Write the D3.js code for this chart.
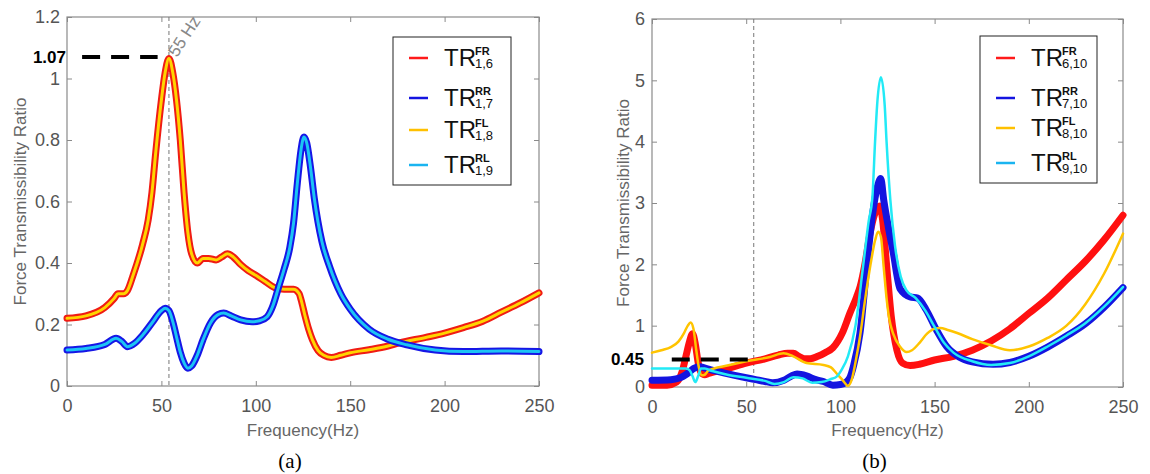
<!DOCTYPE html>
<html>
<head>
<meta charset="utf-8">
<script src="https://cdn.jsdelivr.net/npm/d3@7.9.0/dist/d3.min.js"></script>
<style>
  body { margin: 0; background: #fff; }
  svg { display: block; font-family: "Liberation Sans", Arial, sans-serif; }
</style>
</head>
<body>
<svg id="chart" width="1150" height="474"></svg>
<script>
// ---- data: panel (a) ----
const freqTicks = [0, 50, 100, 150, 200, 250];
const yTicksA = [0, 0.2, 0.4, 0.6, 0.8, 1, 1.2];
const yTicksB = [0, 1, 2, 3, 4, 5, 6];

const freqA_front = [0,10,20,25,27,30,32,35,40,43,45,47,50,52,54,56,58,60,62,64,66,69,72,75,79,82,85,88,92,96,100,105,110,115,120,123,124,126,128,130,133,136,140,145,150,160,170,176,190,200,210,220,230,240,250];
const trA_FR = [0.22,0.228,0.255,0.285,0.30,0.30,0.31,0.36,0.46,0.54,0.63,0.76,0.93,1.02,1.065,1.02,0.93,0.8,0.63,0.5,0.43,0.40,0.415,0.415,0.41,0.42,0.43,0.42,0.395,0.375,0.36,0.34,0.32,0.315,0.315,0.3,0.28,0.23,0.185,0.15,0.115,0.1,0.093,0.1,0.108,0.118,0.13,0.14,0.158,0.172,0.19,0.21,0.24,0.27,0.303];
const trA_FL = [0.22,0.228,0.255,0.285,0.30,0.30,0.31,0.36,0.46,0.54,0.63,0.76,0.93,1.02,1.065,1.02,0.93,0.8,0.63,0.5,0.43,0.40,0.415,0.415,0.41,0.42,0.43,0.42,0.395,0.375,0.36,0.34,0.32,0.315,0.315,0.3,0.28,0.23,0.185,0.15,0.115,0.1,0.093,0.1,0.108,0.118,0.13,0.14,0.158,0.172,0.19,0.21,0.24,0.27,0.303];

const freqA_rear = [0,10,20,26,29,32,36,40,45,50,52,54,56,58,60,62,64,66,69,72,76,80,83,87,92,98,102,106,109,112,115,118,120,122,124,125.5,127,129,131,135,139,145,150,160,170,180,195,210,230,250];
const trA_RR = [0.117,0.122,0.135,0.155,0.145,0.128,0.14,0.165,0.205,0.245,0.253,0.245,0.21,0.16,0.11,0.075,0.058,0.065,0.1,0.15,0.205,0.232,0.237,0.228,0.215,0.209,0.212,0.225,0.26,0.32,0.38,0.45,0.53,0.66,0.77,0.81,0.79,0.71,0.61,0.47,0.39,0.3,0.25,0.185,0.152,0.134,0.117,0.112,0.114,0.112];
const trA_RL = [0.117,0.122,0.135,0.155,0.145,0.128,0.14,0.165,0.205,0.245,0.253,0.245,0.21,0.16,0.11,0.075,0.058,0.065,0.1,0.15,0.205,0.232,0.237,0.228,0.215,0.209,0.212,0.225,0.26,0.32,0.38,0.45,0.53,0.66,0.77,0.81,0.79,0.71,0.61,0.47,0.39,0.3,0.25,0.185,0.152,0.134,0.117,0.112,0.114,0.112];

// ---- data: panel (b) ----
const freqB_FR = [0,8,13,16,18,20,21.5,23,24.5,26,28,30,40,50,60,67,72,75,78,81,84,88,92,96,101,105,108.6,110.5,113,115.7,118,120,121,122.3,124.6,127,130,133,137,142,150,160,170,180,190,200,210,220,230,240,250];
const trB_FR = [0.03,0.03,0.08,0.25,0.5,0.75,0.87,0.7,0.4,0.24,0.2,0.22,0.3,0.39,0.46,0.52,0.55,0.55,0.5,0.46,0.46,0.5,0.56,0.64,0.88,1.2,1.47,1.64,2.0,2.5,2.8,2.93,2.95,2.75,1.96,1.15,0.6,0.39,0.35,0.37,0.44,0.5,0.6,0.75,0.95,1.2,1.45,1.75,2.05,2.4,2.8];

const freqB_RR = [0,10,15,18,20,22,25.5,30,38,50,55,60,64,70,74,77,82,87,91,96,100,103,105,107,110.4,114,117,119.5,121.4,123,125.5,128,131.7,137,141,145.5,151,156.4,163,170,181,190,200,210,220,230,240,250];
const trB_RR = [0.11,0.12,0.15,0.2,0.25,0.3,0.33,0.29,0.23,0.15,0.12,0.09,0.07,0.11,0.18,0.21,0.18,0.12,0.09,0.03,0.04,0.08,0.15,0.35,0.88,1.96,2.8,3.25,3.4,3.05,2.6,2.2,1.6,1.47,1.45,1.26,0.93,0.66,0.49,0.41,0.37,0.4,0.5,0.65,0.83,1.03,1.3,1.62];

const freqB_FL = [0,5,10,14,17,19,20.5,22,23.5,25,26.5,28,30,40,50,62.6,69.8,75,82,91,95,98,101,104,106,108.6,110.4,113,116,118.5,120,121.5,123,124.6,126,128,131.6,135.2,138,142,146,150,153,157,162,170,180,190,200,210,220,230,240,250];
const trB_FL = [0.56,0.6,0.65,0.74,0.88,1.0,1.05,0.95,0.6,0.3,0.19,0.2,0.27,0.35,0.42,0.49,0.55,0.5,0.39,0.36,0.32,0.22,0.12,0.02,0.12,0.5,0.82,1.4,2.0,2.4,2.53,2.45,1.95,1.42,1.1,0.87,0.66,0.57,0.6,0.72,0.87,0.95,0.96,0.93,0.88,0.78,0.68,0.6,0.66,0.8,1.0,1.35,1.85,2.5];

const freqB_RL = [0,10,18,20,21.5,23,24.5,26,28,32,40,50,60,65,70,75,80,85,90,95,98,101,104,108,112,115,117,118.4,119.5,121.5,123.5,124.5,126.5,129,132,135,140,145,150,155,160,170,180,190,200,210,220,230,240,250];
const trB_RL = [0.3,0.3,0.3,0.27,0.18,0.08,0.18,0.3,0.3,0.26,0.2,0.15,0.1,0.05,0.08,0.16,0.14,0.07,0.08,0.13,0.17,0.3,0.5,1.0,1.96,2.7,3.1,4.0,4.6,5.05,4.6,4.0,3.05,2.3,1.8,1.58,1.45,1.25,0.98,0.72,0.56,0.42,0.36,0.39,0.5,0.66,0.84,1.04,1.31,1.63];

const legendSup = ['FR', 'RR', 'FL', 'RL'];
const legendSubA = ['1,6', '1,7', '1,8', '1,9'];
const legendSubB = ['6,10', '7,10', '8,10', '9,10'];
const legendColors = ['#ff1a1a', '#1414e0', '#ffc000', '#1ab4f0'];

const markerFreq = 54;
const peakA = 1.07;
const levelB = 0.45;

const axisColor = '#8a8a8a';
const tickColor = '#555';
const labelColor = '#666';

const svg = d3.select('#chart');

function drawPanel(p) {
    let x = d3.scaleLinear().domain([0, 250]).range([p.left, p.left + p.width]);
    let y = d3.scaleLinear().domain([0, p.yMax]).range([p.top + p.height, p.top]);
    let g = svg.append('g');

    let styleAxis = (sel) => {
        sel.attr('font-family', null).attr('font-size', null);
        sel.select('.domain').remove();
        sel.selectAll('.tick line').attr('stroke', axisColor);
        sel.selectAll('.tick text').attr('fill', tickColor).style('font-size', '18px');
    };

    g.append('g')
        .attr('transform', `translate(0,${y(0)})`)
        .call(d3.axisBottom(x).tickValues(freqTicks).tickSizeInner(-5).tickSizeOuter(0).tickPadding(13))
        .call(styleAxis);
    g.append('g')
        .attr('transform', `translate(0,${y(p.yMax)})`)
        .call(d3.axisTop(x).tickValues(freqTicks).tickSizeInner(-5).tickSizeOuter(0).tickFormat(''))
        .call(styleAxis);
    g.append('g')
        .attr('transform', `translate(${x(0)},0)`)
        .call(d3.axisLeft(y).tickValues(p.yTicks).tickFormat(d3.format('~g')).tickSizeInner(-5).tickSizeOuter(0).tickPadding(7))
        .call(styleAxis);
    g.append('g')
        .attr('transform', `translate(${x(250)},0)`)
        .call(d3.axisRight(y).tickValues(p.yTicks).tickSizeInner(-5).tickSizeOuter(0).tickFormat(''))
        .call(styleAxis);

    g.append('rect')
        .attr('x', x(0)).attr('y', y(p.yMax))
        .attr('width', x(250) - x(0)).attr('height', y(0) - y(p.yMax))
        .attr('fill', 'none').attr('stroke', axisColor).attr('stroke-width', 1.2);

    // marker line
    g.append('line')
        .attr('x1', x(markerFreq)).attr('x2', x(markerFreq))
        .attr('y1', y(p.yMax)).attr('y2', y(0))
        .attr('stroke', '#777').attr('stroke-width', 1)
        .attr('stroke-dasharray', '4,3');

    let line = d3.line()
        .x((d) => x(d[0]))
        .y((d) => y(d[1]))
        .curve(d3.curveMonotoneX);

    p.series.forEach((s) => {
        g.append('path')
            .attr('d', line(d3.zip(s.f, s.v)))
            .attr('fill', 'none')
            .attr('stroke', s.color)
            .attr('stroke-width', s.width)
            .attr('stroke-linejoin', 'round')
            .attr('stroke-linecap', 'round');
    });

    // horizontal annotation
    g.append('line')
        .attr('x1', x(p.annot.from)).attr('x2', x(p.annot.to))
        .attr('y1', y(p.annot.value)).attr('y2', y(p.annot.value))
        .attr('stroke', '#000').attr('stroke-width', 4)
        .attr('stroke-dasharray', '18,11');
    g.append('text')
        .attr('x', p.annot.labelX).attr('y', y(p.annot.value) + 6)
        .attr('text-anchor', 'end')
        .attr('font-weight', 'bold')
        .style('font-size', '17px')
        .attr('fill', '#000')
        .text(p.annot.value);

    // axis titles
    g.append('text')
        .attr('transform', `translate(${p.yLabelX},${(y(0) + y(p.yMax)) / 2}) rotate(-90)`)
        .attr('text-anchor', 'middle')
        .style('font-size', '17px')
        .attr('fill', labelColor)
        .text('Force Transmissibility Ratio');
    g.append('text')
        .attr('x', (x(0) + x(250)) / 2).attr('y', 436)
        .attr('text-anchor', 'middle')
        .style('font-size', '17px')
        .attr('fill', labelColor)
        .text('Frequency(Hz)');
    g.append('text')
        .attr('x', (x(0) + x(250)) / 2 - 13).attr('y', 468)
        .attr('text-anchor', 'middle')
        .style('font-family', '"Liberation Serif", "Times New Roman", serif')
        .style('font-size', '21px')
        .attr('fill', '#000')
        .text(p.tag);

    // legend
    let lg = g.append('g').attr('transform', `translate(${p.legend.x},${p.legend.y})`);
    lg.append('rect')
        .attr('width', p.legend.w).attr('height', p.legend.h)
        .attr('fill', '#fff').attr('stroke', '#222').attr('stroke-width', 1);
    p.legend.rows.forEach((ry, i) => {
        lg.append('line')
            .attr('x1', 16).attr('x2', 35).attr('y1', ry).attr('y2', ry)
            .attr('stroke', legendColors[i]).attr('stroke-width', 2.5);
        lg.append('text')
            .attr('x', 51).attr('y', ry + 8)
            .style('font-size', '24px').attr('fill', '#111')
            .text('TR');
        lg.append('text')
            .attr('x', 82).attr('y', ry - 3)
            .style('font-size', '11px').attr('font-weight', 'bold').attr('fill', '#111')
            .text(legendSup[i]);
        lg.append('text')
            .attr('x', 82).attr('y', ry + 10)
            .style('font-size', '13px').attr('fill', '#111')
            .text(p.legend.subs[i]);
    });

    return { x, y, g };
}

const panelA = drawPanel({
    left: 67, top: 17, width: 472, height: 369,
    yMax: 1.2, yTicks: yTicksA, yLabelX: 26, tag: '(a)',
    series: [
        { f: freqA_front, v: trA_FR, color: '#f01c14', width: 7 },
        { f: freqA_front, v: trA_FL, color: '#ffd400', width: 3 },
        { f: freqA_rear, v: trA_RR, color: '#1616e6', width: 7 },
        { f: freqA_rear, v: trA_RL, color: '#1cc4f4', width: 3 }
    ],
    annot: { value: peakA, from: 8, to: 48, labelX: 66 },
    legend: { x: 393, y: 37, w: 118, h: 148, rows: [21, 61, 93, 128], subs: legendSubA }
});

panelA.g.append('text')
    .attr('transform', `translate(${panelA.x(markerFreq) + 8},${58}) rotate(-57)`)
    .style('font-size', '17px')
    .attr('fill', '#888')
    .text('55 Hz');

drawPanel({
    left: 652, top: 19, width: 471, height: 368,
    yMax: 6, yTicks: yTicksB, yLabelX: 629, tag: '(b)',
    series: [
        { f: freqB_FR, v: trB_FR, color: '#ff1010', width: 7 },
        { f: freqB_RR, v: trB_RR, color: '#1414e0', width: 7 },
        { f: freqB_FL, v: trB_FL, color: '#ffc400', width: 2.5 },
        { f: freqB_RL, v: trB_RL, color: '#22eaf6', width: 2.5 }
    ],
    annot: { value: levelB, from: 10.5, to: 51, labelX: 644 },
    legend: { x: 980, y: 36, w: 117, h: 147, rows: [22, 62, 92, 127], subs: legendSubB }
});
</script>
</body>
</html>
